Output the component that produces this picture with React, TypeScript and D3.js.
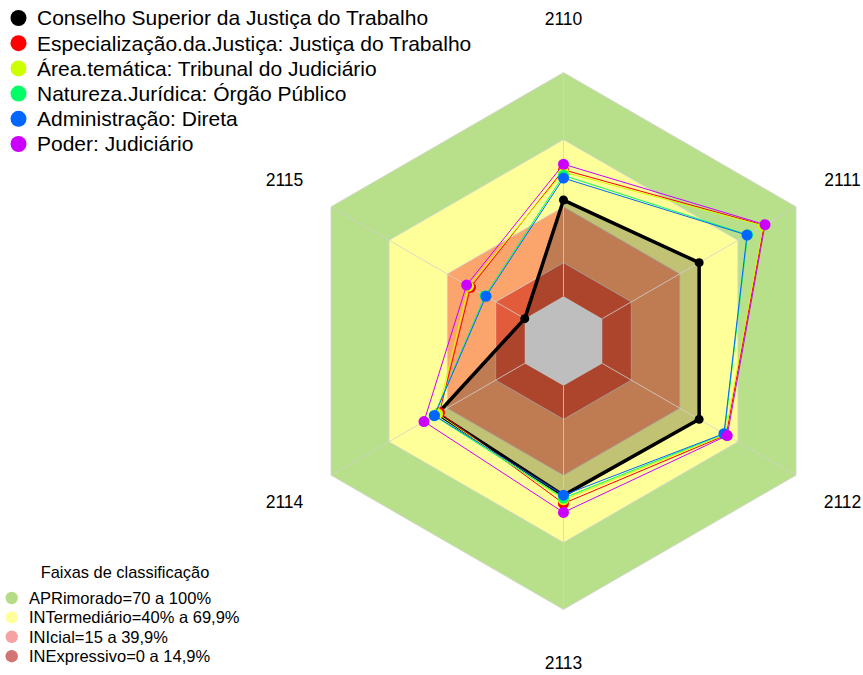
import React, { useEffect, useRef } from "react";
import * as d3 from "d3";

// eixos do radar (sentido horário a partir do topo)
const axes = ["2110", "2111", "2112", "2113", "2114", "2115"];

const seriesNames = [
  "Conselho Superior da Justiça do Trabalho",
  "Especialização.da.Justiça: Justiça do Trabalho",
  "Área.temática: Tribunal do Judiciário",
  "Natureza.Jurídica: Órgão Público",
  "Administração: Direta",
  "Poder: Judiciário",
];
const seriesColors = ["#000000", "#FF0000", "#CCFF00", "#00FF66", "#0066FF", "#CC00FF"];

const conselho = [43, 50, 50, 49, 45, 0];
const especializacao = [56.5, 83.5, 64, 52.6, 44, 28];
const areaTematica = [55.5, 83, 63.5, 51, 45, 29];
const natureza = [54, 75, 63, 50.2, 46.8, 20.5];
const administracao = [52.8, 74.7, 62.8, 48.9, 46.6, 20];
const poder = [59, 84, 64.5, 56.6, 52, 30];
const seriesValues = [conselho, especializacao, areaTematica, natureza, administracao, poder];

// faixas de classificação
const bandNames = ["APRimorado=70 a 100%", "INTermediário=40% a 69,9%", "INIcial=15 a 39,9%", "INExpressivo=0 a 14,9%"];
const bandLimits = [100, 70, 40, 15];
const bandFill = ["#b8df8a", "#ffff99", "#fba46c", "#e25b3b"];
const bandLegend = ["#b5dd88", "#ffff9c", "#f7a2a2", "#d27474"];

const W = 863;
const H = 675;

export default function App() {
  const ref = useRef<SVGSVGElement | null>(null);

  useEffect(() => {
    const svg = d3.select(ref.current);
    svg.selectAll("*").remove();

    const cx = 563.5;
    const cy = 341;
    const R = 268.5;
    const font = "'Liberation Sans', Arial, sans-serif";

    const r = d3.scaleLinear().domain([0, 100]).range([R / 6, R]);
    const angle = d3
      .scaleLinear()
      .domain([0, axes.length])
      .range([0, 2 * Math.PI]);

    const g = svg.append("g").attr("transform", `translate(${cx},${cy})`);

    const radial = d3
      .lineRadial<number>()
      .angle((_, i) => angle(i))
      .radius((d) => r(d))
      .curve(d3.curveLinearClosed);

    const hex = (v: number) => radial(axes.map(() => v));

    // faixas
    g.append("g")
      .selectAll("path")
      .data(bandLimits)
      .join("path")
      .attr("d", (d) => hex(d))
      .attr("fill", (_, i) => bandFill[i])
      .attr("stroke", "#d6d6d6")
      .attr("stroke-width", 0.8);

    // preenchimento da primeira série
    g.append("path")
      .attr("d", radial(conselho))
      .attr("fill", "#000")
      .attr("fill-opacity", 0.24);

    // centro cinza
    g.append("path").attr("d", hex(0)).attr("fill", "#bebebe");

    // linhas dos eixos
    g.append("g")
      .selectAll("line")
      .data(axes)
      .join("line")
      .attr("x1", (_, i) => Math.sin(angle(i)) * r(0))
      .attr("y1", (_, i) => -Math.cos(angle(i)) * r(0))
      .attr("x2", (_, i) => Math.sin(angle(i)) * r(100))
      .attr("y2", (_, i) => -Math.cos(angle(i)) * r(100))
      .attr("stroke", "#d0d0d0")
      .attr("stroke-width", 0.8);

    // séries
    seriesValues.forEach((vals, s) => {
      const sg = g.append("g");
      sg.append("path")
        .attr("d", radial(vals))
        .attr("fill", "none")
        .attr("stroke", seriesColors[s])
        .attr("stroke-width", s === 0 ? 3.5 : 1)
        .attr("stroke-linejoin", "round");
      sg.selectAll("circle")
        .data(vals)
        .join("circle")
        .attr("cx", (d, i) => Math.sin(angle(i)) * r(d))
        .attr("cy", (d, i) => -Math.cos(angle(i)) * r(d))
        .attr("r", s === 0 ? 4.5 : 5.5)
        .attr("fill", seriesColors[s]);
    });

    // rótulos dos eixos
    g.append("g")
      .selectAll("text")
      .data(axes)
      .join("text")
      .attr("x", (_, i) => Math.sin(angle(i)) * R * 1.2)
      .attr("y", (_, i) => -Math.cos(angle(i)) * R * 1.2)
      .attr("dy", "0.35em")
      .attr("text-anchor", "middle")
      .attr("font-family", font)
      .attr("font-size", 17.5)
      .text((d) => d);

    // legenda das séries
    const leg = svg.append("g").attr("transform", "translate(0,18)");
    const items = leg
      .selectAll("g")
      .data(seriesNames)
      .join("g")
      .attr("transform", (_, i) => `translate(0,${i * 25.2})`);
    items.append("circle").attr("cx", 18.5).attr("r", 8).attr("fill", (_, i) => seriesColors[i]);
    items
      .append("text")
      .attr("x", 37)
      .attr("dy", "0.35em")
      .attr("font-family", font)
      .attr("font-size", 21)
      .text((d) => d);

    // legenda das faixas
    const leg2 = svg.append("g");
    leg2
      .append("text")
      .attr("x", 125)
      .attr("y", 572)
      .attr("dy", "0.35em")
      .attr("text-anchor", "middle")
      .attr("font-family", font)
      .attr("font-size", 16.4)
      .text("Faixas de classificação");
    const items2 = leg2
      .selectAll("g")
      .data(bandNames)
      .join("g")
      .attr("transform", (_, i) => `translate(0,${598 + i * 19.4})`);
    items2.append("circle").attr("cx", 11.7).attr("r", 6.2).attr("fill", (_, i) => bandLegend[i]);
    items2
      .append("text")
      .attr("x", 29)
      .attr("dy", "0.35em")
      .attr("font-family", font)
      .attr("font-size", 16.5)
      .text((d) => d);
  }, []);

  return (
    <svg
      ref={ref}
      width={W}
      height={H}
      style={{ position: "absolute", left: 0, top: 0, background: "#fff" }}
    />
  );
}
